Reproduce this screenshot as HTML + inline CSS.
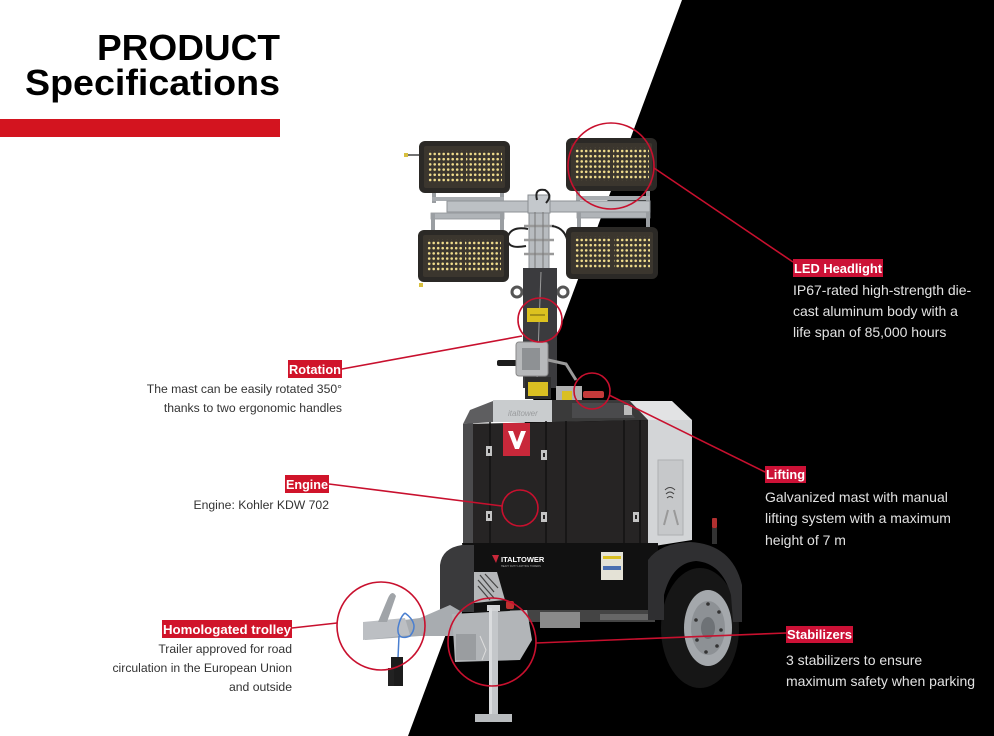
<!DOCTYPE html>
<html><head><meta charset="utf-8">
<style>
html,body{margin:0;padding:0;background:#fff;}
body{width:994px;height:736px;overflow:hidden;position:relative;}
svg{position:absolute;left:0;top:0;}
</style></head><body>
<svg width="994" height="736" viewBox="0 0 994 736" xmlns="http://www.w3.org/2000/svg" font-family="'Liberation Sans', Arial, sans-serif">
<defs>
<pattern id="dots" x="0" y="0" width="4.5" height="5.2" patternUnits="userSpaceOnUse">
<circle cx="2.2" cy="2.6" r="1.3" fill="#f0dc8c"/>
</pattern>
</defs>
<rect width="994" height="736" fill="#fff"/>
<polygon points="682,0 994,0 994,736 408,736" fill="#000"/>

<!-- Title -->
<text x="97" y="60" font-size="36.5" font-weight="bold" fill="#000" textLength="183" lengthAdjust="spacingAndGlyphs">PRODUCT</text>
<text x="25" y="95" font-size="36.5" font-weight="bold" fill="#000" textLength="255" lengthAdjust="spacingAndGlyphs">Specifications</text>
<rect x="0" y="119" width="280" height="18" fill="#d3141f"/>

<!-- ===== Product ===== -->
<rect x="432" y="193" width="4" height="10" fill="#9a9ea2"/>
<rect x="500" y="193" width="4" height="10" fill="#9a9ea2"/>
<rect x="432" y="197" width="72" height="4" fill="#a8acb0"/>
<rect x="576" y="191" width="4" height="11" fill="#9a9ea2"/>
<rect x="646" y="191" width="4" height="11" fill="#9a9ea2"/>
<rect x="576" y="196" width="74" height="4" fill="#a8acb0"/>
<rect x="447" y="201" width="203" height="11" fill="#bcc0c4" stroke="#8e9296" stroke-width="1"/>
<rect x="431" y="213" width="73" height="6" fill="#b0b4b8" stroke="#8e9296" stroke-width="0.8"/>
<rect x="431" y="213" width="4" height="17" fill="#9a9ea2"/>
<rect x="500" y="213" width="4" height="17" fill="#9a9ea2"/>
<rect x="577" y="212" width="73" height="6" fill="#b0b4b8" stroke="#8e9296" stroke-width="0.8"/>
<rect x="577" y="212" width="4" height="16" fill="#9a9ea2"/>
<rect x="646" y="212" width="4" height="16" fill="#9a9ea2"/>

<rect x="529" y="196" width="20" height="76" fill="#b8bcc0" stroke="#8a8e92" stroke-width="1"/>
<rect x="528" y="195" width="22" height="18" fill="#c4c8cc" stroke="#8a8e92" stroke-width="1"/>
<line x1="524" y1="226" x2="554" y2="226" stroke="#999" stroke-width="2.5"/>
<line x1="524" y1="240" x2="554" y2="240" stroke="#999" stroke-width="2.5"/>
<line x1="524" y1="254" x2="554" y2="254" stroke="#999" stroke-width="2.5"/>
<line x1="535" y1="212" x2="535" y2="270" stroke="#777" stroke-width="1"/>
<line x1="543" y1="212" x2="543" y2="270" stroke="#777" stroke-width="1"/>
<path d="M537,200 Q534,188 545,190 Q553,195 546,203" stroke="#222" stroke-width="2" fill="none"/>
<path d="M526,246 Q505,250 508,236 Q512,226 528,229" stroke="#222" stroke-width="2" fill="none"/>
<path d="M552,226 Q566,228 568,244" stroke="#222" stroke-width="2" fill="none"/>

<g transform="translate(419,141)">
<rect x="0" y="0" width="91" height="52" rx="6" fill="#2b2926"/>
<rect x="5" y="5" width="81" height="42" rx="2" fill="#3b362e"/>
<rect x="8" y="9" width="36" height="33" fill="url(#dots)"/>
<rect x="47" y="9" width="36" height="33" fill="url(#dots)"/>
</g>
<line x1="405" y1="155" x2="419" y2="155" stroke="#444" stroke-width="1.5"/>
<rect x="404" y="153" width="4" height="4" fill="#d8c040"/>
<g transform="translate(566,138)">
<rect x="0" y="0" width="91" height="53" rx="6" fill="#2b2926"/>
<rect x="5" y="5" width="81" height="43" rx="2" fill="#3b362e"/>
<rect x="8" y="9" width="36" height="34" fill="url(#dots)"/>
<rect x="47" y="9" width="36" height="34" fill="url(#dots)"/>
</g>
<g transform="translate(418,230)">
<rect x="0" y="0" width="91" height="52" rx="6" fill="#2b2926"/>
<rect x="5" y="5" width="81" height="42" rx="2" fill="#3b362e"/>
<rect x="8" y="9" width="36" height="33" fill="url(#dots)"/>
<rect x="47" y="9" width="36" height="33" fill="url(#dots)"/>
</g>
<rect x="419" y="283" width="4" height="4" fill="#d8c040"/>
<g transform="translate(566,227)">
<rect x="0" y="0" width="92" height="52" rx="6" fill="#2b2926"/>
<rect x="5" y="5" width="82" height="42" rx="2" fill="#3b362e"/>
<rect x="8" y="9" width="37" height="33" fill="url(#dots)"/>
<rect x="48" y="9" width="36" height="33" fill="url(#dots)"/>
</g>

<circle cx="517" cy="292" r="5" fill="none" stroke="#555" stroke-width="3"/>
<circle cx="563" cy="292" r="5" fill="none" stroke="#555" stroke-width="3"/>
<rect x="523" y="268" width="34" height="120" fill="#3b3b3e"/>
<line x1="541" y1="272" x2="537" y2="380" stroke="#9a9a9a" stroke-width="1"/>
<rect x="527" y="308" width="21" height="14" fill="#dcc21f"/>
<line x1="530" y1="315" x2="545" y2="315" stroke="#6b5d10" stroke-width="1"/>
<rect x="497" y="360" width="20" height="6" rx="2" fill="#1d1d1d"/>
<rect x="516" y="342" width="32" height="34" rx="3" fill="#b7b9bb" stroke="#888" stroke-width="1"/>
<rect x="522" y="348" width="18" height="22" fill="#8e9194"/>
<path d="M548,360 L566,364 L576,380" stroke="#9a9a9a" stroke-width="3" fill="none"/>
<rect x="525" y="377" width="26" height="22" fill="#2d2d2d"/>
<rect x="528" y="382" width="20" height="14" fill="#d9bf22"/>
<rect x="556" y="386" width="26" height="18" fill="#b0b0b0"/>
<rect x="562" y="391" width="10" height="10" fill="#d9bf22"/>
<rect x="583" y="391" width="21" height="7" rx="2" fill="#c43a3a"/>

<polygon points="463,424 470,410 493,401 493,422" fill="#5e5e60"/>
<rect x="493" y="400" width="59" height="22" fill="#c9ccce"/>
<text x="508" y="416" font-size="8" font-style="italic" fill="#9a9c9e">italtower</text>
<polygon points="552,400 630,400 648,420 552,422" fill="#3a3a3a"/>
<polygon points="572,403 625,403 635,418 572,418" fill="#4a4a4c"/>
<polygon points="630,401 672,401 692,420 648,420" fill="#e2e3e4"/>
<polygon points="648,420 692,420 692,540 648,547" fill="#d3d5d7"/>
<rect x="624" y="405" width="8" height="10" fill="#bbb"/>
<rect x="658" y="460" width="25" height="75" fill="#c6c8ca" stroke="#aeb0b2" stroke-width="1"/>
<path d="M665,490 Q670,485 675,490 M666,494 Q670,490 674,494 M667,498 Q670,495 673,498" stroke="#444" stroke-width="1" fill="none"/>
<path d="M664,525 L668,510 M678,525 L674,510" stroke="#999" stroke-width="2"/>
<polygon points="463,424 648,420 648,547 463,543" fill="#262424"/>
<polygon points="463,424 473,423 473,543 463,543" fill="#4b4b4d"/>
<g stroke="#121212" stroke-width="1.5">
<line x1="490" y1="422" x2="490" y2="543"/>
<line x1="546" y1="421" x2="546" y2="544"/>
<line x1="566" y1="421" x2="566" y2="545"/>
<line x1="624" y1="420" x2="624" y2="546"/>
<line x1="640" y1="420" x2="640" y2="546"/>
</g>
<rect x="503" y="423" width="27" height="33" fill="#c8283a"/>
<polygon points="508,431 513,431 517,442 521,431 526,431 519,449 515,449" fill="#fff"/>
<g fill="#c4c4c4">
<rect x="486" y="446" width="6" height="10"/><rect x="541" y="450" width="6" height="10"/>
<rect x="486" y="511" width="6" height="10"/><rect x="541" y="512" width="6" height="10"/>
<rect x="633" y="512" width="6" height="10"/>
</g>
<g fill="#262424">
<rect x="488" y="449" width="2" height="4"/><rect x="543" y="453" width="2" height="4"/>
<rect x="488" y="514" width="2" height="4"/><rect x="543" y="515" width="2" height="4"/>
<rect x="635" y="515" width="2" height="4"/>
</g>

<polygon points="462,543 658,543 658,612 470,612" fill="#111"/>
<path d="M440,612 L440,565 Q442,548 462,545 L474,545 L474,612 Z" fill="#3a3a3c"/>
<polygon points="474,572 497,572 505,600 474,603" fill="#b5b7b9"/>
<g stroke="#444" stroke-width="1.2">
<line x1="480" y1="575" x2="494" y2="592"/><line x1="478" y1="580" x2="494" y2="598"/>
<line x1="478" y1="586" x2="490" y2="600"/><line x1="485" y1="574" x2="498" y2="588"/>
</g>
<rect x="506" y="601" width="8" height="8" rx="2" fill="#c03030"/>
<polygon points="492,555 499,555 496,563" fill="#c8283a"/>
<text x="501" y="562" font-size="7.5" font-weight="bold" fill="#fff">ITALTOWER</text>
<text x="501" y="567" font-size="2.5" fill="#aaa">HEAVY DUTY LIGHTING TOWERS</text>
<rect x="601" y="552" width="22" height="28" fill="#e4e2d6"/>
<rect x="603" y="556" width="18" height="3" fill="#d9bf22"/>
<rect x="603" y="566" width="18" height="4" fill="#4a6fb0"/>
<rect x="510" y="610" width="145" height="12" fill="#444"/>
<rect x="540" y="612" width="40" height="16" fill="#8a8a8a"/>
<rect x="600" y="614" width="50" height="6" fill="#666"/>
<ellipse cx="700" cy="628" rx="39" ry="60" fill="#161616"/>
<ellipse cx="708" cy="628" rx="24" ry="38" fill="#a4a8ac"/>
<ellipse cx="708" cy="628" rx="17" ry="27" fill="#8d9195"/>
<ellipse cx="708" cy="628" rx="7" ry="11" fill="#6e7276"/>
<g fill="#333">
<circle cx="708" cy="604" r="1.8"/><circle cx="719" cy="612" r="1.8"/><circle cx="721" cy="630" r="1.8"/>
<circle cx="717" cy="646" r="1.8"/><circle cx="706" cy="652" r="1.8"/><circle cx="697" cy="640" r="1.8"/>
<circle cx="696" cy="620" r="1.8"/>
</g>
<path d="M648,620 L648,560 Q660,543 690,542 Q732,544 742,585 L742,622 L733,622 L731,595 Q722,563 696,561 Q672,563 664,595 L664,620 Z" fill="#2f2f31"/>
<rect x="712" y="518" width="5" height="10" rx="1" fill="#b03030"/>
<rect x="712" y="528" width="5" height="16" fill="#333"/>

<polygon points="365,625 420,618 450,605 462,612 458,636 420,636 365,640" fill="#a8acb0"/>
<polygon points="363,622 405,618 410,635 363,640" fill="#bcbfc3"/>
<path d="M378,622 L388,598 Q392,589 396,596 L387,622 Z" fill="#a0a4a8"/>
<path d="M405,613 Q420,624 410,636 Q397,641 398,628 Q400,617 405,613" stroke="#4a7fd0" stroke-width="1.5" fill="none"/>
<line x1="399" y1="636" x2="398" y2="658" stroke="#4a7fd0" stroke-width="1.5"/>
<rect x="391" y="657" width="12" height="29" fill="#1c1c1c"/>
<rect x="388" y="668" width="6" height="18" fill="#222"/>
<polygon points="452,614 527,610 532,640 520,660 455,662" fill="#b2b5b8"/>
<rect x="456" y="634" width="20" height="26" fill="#9a9da0"/>
<path d="M480,636 L486,650 L482,660" stroke="#ddd" stroke-width="1" fill="none"/>
<rect x="489" y="608" width="9" height="109" fill="#c4c7ca"/>
<rect x="487" y="605" width="13" height="6" fill="#d2d4d6"/>
<rect x="489" y="608" width="3" height="109" fill="#dadcde"/>
<rect x="475" y="714" width="37" height="8" fill="#b9bcbf"/>

<g stroke="#c8102e" stroke-width="1.6" fill="none">
<circle cx="611" cy="166" r="43"/>
<line x1="654" y1="168" x2="793" y2="262"/>
<circle cx="540" cy="320" r="22"/>
<line x1="522" y1="336" x2="342" y2="369"/>
<circle cx="592" cy="391" r="18"/>
<line x1="609" y1="395" x2="765" y2="472"/>
<circle cx="520" cy="508" r="18"/>
<line x1="502" y1="506" x2="329" y2="484"/>
<circle cx="381" cy="626" r="44"/>
<line x1="337" y1="623" x2="292" y2="628"/>
<circle cx="492" cy="642" r="44"/>
<line x1="536" y1="643" x2="786" y2="633"/>
</g>

<g font-size="13" font-weight="bold" fill="#fff">
<rect x="793" y="259" width="90" height="18" fill="#cc1136"/>
<text x="794" y="273" textLength="88" lengthAdjust="spacingAndGlyphs">LED Headlight</text>
<rect x="288" y="360" width="54" height="18" fill="#d0142a"/>
<text x="289" y="374" textLength="52" lengthAdjust="spacingAndGlyphs">Rotation</text>
<rect x="285" y="475" width="44" height="18" fill="#d0142a"/>
<text x="286" y="489" textLength="42" lengthAdjust="spacingAndGlyphs">Engine</text>
<rect x="162" y="620" width="130" height="18" fill="#d0142a"/>
<text x="163" y="634" textLength="128" lengthAdjust="spacingAndGlyphs">Homologated trolley</text>
<rect x="765" y="466" width="41" height="17" fill="#cc1136"/>
<text x="766" y="479" textLength="39" lengthAdjust="spacingAndGlyphs">Lifting</text>
<rect x="786" y="626" width="67" height="17" fill="#cc1136"/>
<text x="787" y="639" textLength="65" lengthAdjust="spacingAndGlyphs">Stabilizers</text>
</g>

<g font-size="12.2" fill="#333" text-anchor="end">
<text x="342" y="393">The mast can be easily rotated 350°</text>
<text x="342" y="412">thanks to two ergonomic handles</text>
<text x="329" y="509">Engine: Kohler KDW 702</text>
<text x="292" y="653">Trailer approved for road</text>
<text x="292" y="672">circulation in the European Union</text>
<text x="292" y="691">and outside</text>
</g>
<g font-size="14" fill="#e2e2e2">
<text x="793" y="295">IP67-rated high-strength die-</text>
<text x="793" y="316">cast aluminum body with a</text>
<text x="793" y="337">life span of 85,000 hours</text>
<text x="765" y="502">Galvanized mast with manual</text>
<text x="765" y="523">lifting system with a maximum</text>
<text x="765" y="545">height of 7 m</text>
<text x="786" y="665">3 stabilizers to ensure</text>
<text x="786" y="686">maximum safety when parking</text>
</g>
</svg>
</body></html>
